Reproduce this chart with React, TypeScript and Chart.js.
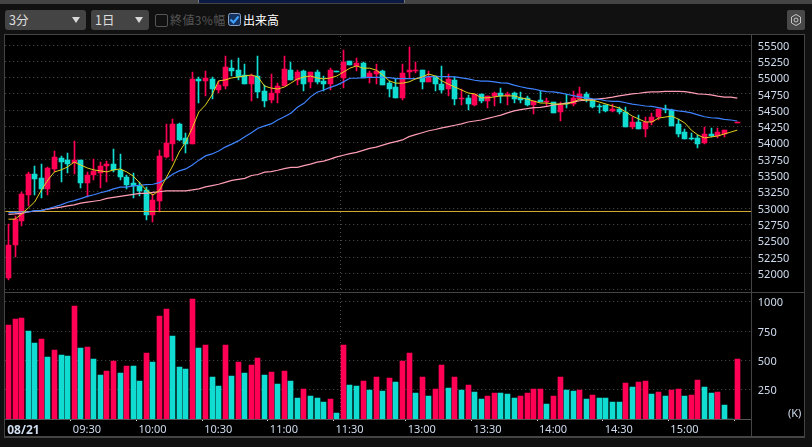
import React, { useEffect, useRef } from "react";
import { Chart, registerables } from "chart.js";

Chart.register(...registerables);

const opens = [51930,52435,52800,53200,53520,53460,53290,53600,53770,53735,
53690,53735,53385,53505,53540,53645,53675,53585,53475,53385,
53340,53275,52895,53110,53785,53980,54290,54075,53980,54980,
54950,54980,54810,54870,55145,55115,55040,54900,55025,54795,
54655,54765,54870,55115,54965,55100,54935,55085,54950,54900,
55100,54995,55255,55180,55225,55010,55055,55100,54915,54855,
54690,55085,55100,55115,54935,55025,54900,54825,54965,54670,
54690,54580,54750,54640,54720,54765,54720,54765,54690,54690,
54580,54655,54625,54625,54475,54610,54595,54670,54750,54655,
54565,54580,54490,54520,54475,54245,54320,54210,54320,54395,
54520,54505,54290,54165,54075,54075,54000,54135,54105,54135,
null,54320];
const closes = [52435,52830,53215,53520,53445,53290,53615,53785,53705,53675,
53735,53385,53505,53570,53645,53675,53585,53475,53355,53340,
53260,52895,53125,53800,53995,54290,54045,53980,54980,54950,
54995,54825,54885,55165,55100,55010,54900,55025,54780,54640,
54765,54870,55130,54965,55085,54900,55085,54935,54900,55115,
55085,55240,55195,55225,54995,55070,55100,54885,54825,54690,
55070,55115,55115,54935,55010,54900,54810,54980,54670,54690,
54595,54750,54640,54720,54765,54720,54750,54670,54655,54580,
54640,54625,54640,54460,54580,54595,54690,54750,54670,54550,
54550,54490,54520,54475,54245,54320,54210,54320,54395,54520,
54505,54260,54135,54060,54060,53980,54135,54105,54165,54195,
null,54325];
const highs = [52755,52880,53245,53555,53645,53675,53630,53875,53800,53845,
54030,53735,53555,53750,53705,53720,53905,53830,53505,53540,
53400,53325,53215,53890,54290,54365,54305,54150,55085,55010,
55100,55010,54950,55330,55270,55300,55210,55055,55330,54885,
55055,54915,55330,55240,55115,55115,55085,55115,55025,55145,
55100,55425,55255,55300,55240,55100,55210,55115,54950,54995,
55210,55470,55240,55115,55100,55025,55180,55055,55010,54825,
54735,54750,54750,54720,54780,54840,54780,54780,54780,54720,
54640,54795,54690,54625,54625,54750,54795,54855,54780,54670,
54595,54580,54595,54550,54550,54395,54425,54395,54460,54520,
54580,54520,54365,54210,54150,54120,54245,54230,54230,54195,
null,54325];
const lows = [51895,52250,52725,53030,53200,53155,53200,53555,53400,53540,
53520,53310,53170,53430,53310,53400,53555,53430,53290,53155,
53185,52815,52785,52940,53770,53720,54030,53845,53980,54610,
54720,54670,54765,54825,55025,54965,54900,54640,54690,54550,
54610,54610,54870,54965,54885,54795,54840,54900,54795,54810,
55085,54840,55195,55100,54995,54915,54900,54885,54705,54690,
54655,54995,55070,54825,54935,54795,54765,54720,54580,54580,
54505,54565,54610,54535,54565,54610,54580,54610,54610,54565,
54440,54625,54565,54460,54335,54535,54565,54670,54625,54535,
54460,54475,54475,54440,54245,54210,54210,54090,54275,54350,
54460,54260,54090,54060,54045,53920,53980,54090,54075,54090,
null,54320];

const maShort = [52830,52830,52910,53000,53095,53275,53430,53555,53585,53630,
53705,53660,53615,53585,53570,53555,53585,53600,53555,53490,
53385,53275,53200,53275,53460,53645,53860,54015,54230,54475,
54580,54735,54950,54965,54995,55010,55025,55040,55010,54870,
54840,54825,54855,54915,54980,55010,55025,54995,54980,54995,
55025,55085,55145,55180,55145,55145,55115,55040,54950,54915,
54915,54935,54980,55010,55055,55025,54950,54900,54855,54810,
54765,54750,54690,54690,54705,54720,54720,54720,54690,54670,
54640,54610,54610,54595,54595,54595,54625,54670,54655,54655,
54625,54595,54565,54535,54475,54410,54365,54320,54320,54380,
54395,54410,54365,54305,54195,54120,54075,54090,54105,54135,
54165,54195];
const maMid = [52930,52935,52940,52940,52960,52960,52990,53020,53050,53090,
53115,53145,53180,53205,53235,53260,53295,53320,53320,53340,
53350,53360,53365,53390,53445,53520,53570,53600,53660,53735,
53800,53830,53875,53935,53980,54030,54095,54155,54225,54260,
54290,54350,54400,54455,54545,54605,54705,54775,54810,54850,
54885,54935,54990,54990,55000,55005,55005,55005,55000,54985,
54985,54985,54985,55000,55015,55015,55015,55015,55010,54995,
54980,54960,54945,54945,54935,54920,54915,54885,54860,54840,
54825,54800,54785,54780,54765,54745,54725,54705,54690,54675,
54665,54645,54635,54635,54615,54595,54580,54565,54560,54540,
54520,54505,54490,54480,54460,54430,54400,54385,54380,54360,
54350,54335];
const maLong = [52905,52910,52920,52940,52955,52965,52985,53000,53015,53035,
53050,53075,53090,53105,53120,53150,53165,53180,53195,53210,
53225,53225,53240,53250,53265,53265,53265,53265,53280,53295,
53325,53345,53365,53395,53425,53440,53455,53500,53515,53550,
53560,53580,53605,53625,53625,53650,53675,53705,53720,53750,
53785,53810,53835,53855,53885,53915,53935,53965,53995,54020,
54045,54095,54125,54155,54185,54205,54230,54250,54270,54290,
54320,54335,54350,54375,54400,54425,54460,54490,54510,54525,
54540,54545,54560,54580,54595,54610,54625,54645,54655,54665,
54675,54685,54700,54720,54735,54750,54760,54775,54780,54780,
54790,54790,54790,54785,54770,54750,54745,54735,54715,54700,
54700,54685];

const volumes = [801,852,860,750,647,682,528,588,545,537,
963,605,613,511,375,409,494,392,452,452,
324,562,486,878,937,707,443,426,1022,605,
630,358,281,630,366,486,392,460,520,375,
400,298,409,324,179,256,196,179,145,170,
51,630,290,281,324,247,358,239,349,315,
494,562,222,358,196,256,460,264,358,247,
290,230,170,196,222,222,213,179,196,222,
256,256,128,196,358,247,239,247,170,204,
179,179,145,145,307,273,315,324,213,230,
196,247,256,196,204,332,273,222,230,119,
0,511];
const volumeUp = [1,1,1,0,0,1,0,1,0,0,
1,0,1,0,0,1,1,0,1,0,
0,1,0,1,1,0,0,0,1,0,
1,0,0,1,0,1,0,1,1,0,
1,0,1,0,0,1,0,0,0,1,
0,1,0,0,1,0,1,0,1,0,
1,1,0,1,0,1,1,0,1,0,
1,0,0,1,1,0,0,0,1,1,
1,1,0,1,1,0,0,1,0,1,
0,0,0,0,1,0,1,1,0,1,
0,1,1,0,1,1,0,0,1,0,
0,1];

const priceTicks = [55500,55250,55000,54750,54500,54250,54000,53750,53500,53250,53000,52750,52500,52250,52000,51750];
const priceLabelled = [55500,55250,55000,54750,54500,54250,54000,53750,53500,53250,53000,52750,52500,52250,52000];
const volumeTicks = [1000,750,500,250];
const prevClose = 52948;
const timeLabels = ["08/21","09:30","10:00","10:30","11:00","11:30","13:00","13:30","14:00","14:30","15:00",""];
const timeSlots = [-0.5,9.5,19.5,29.5,39.5,49.5,60.5,70.5,80.5,90.5,100.5,110.5];
const lunchSlot = 50.5;

const RED = "#ff0055";
const TEAL = "#10dcd2";
const TEXT = "#cfdcee";
const FONT = "'Noto Sans', sans-serif";
const GRID = "#4e4e4e";
const X_MIN = -0.5;
const X_MAX = 113.13;

const noPad = (s: any) => {
  s.paddingTop = 0;
  s.paddingBottom = 0;
  s.paddingLeft = 0;
  s.paddingRight = 0;
};

const snapBars = {
  id: "snapBars",
  afterDatasetsUpdate(chart: any) {
    chart.data.datasets.forEach((ds: any, k: number) => {
      if ((ds.type || chart.config.type) !== "bar") return;
      chart.getDatasetMeta(k).data.forEach((el: any) => {
        el.x = Math.floor(el.x) + 0.5;
        const top = Math.round(Math.min(el.y, el.base));
        let bottom = Math.round(Math.max(el.y, el.base));
        if (bottom <= top) bottom = top + 1;
        el.y = top;
        el.base = bottom;
      });
    });
  },
};

function PriceChart() {
  const ref = useRef<HTMLCanvasElement>(null);
  useEffect(() => {
    const idx = opens.map((_, i) => i).filter((i) => opens[i] !== null);
    const colors = idx.map((i) => ((closes[i] as number) >= (opens[i] as number) ? RED : TEAL));
    const line = (values: number[], color: string, width: number, order: number) => ({
      type: "line",
      data: values.map((y, x) => ({ x, y })),
      borderColor: color,
      borderWidth: width,
      pointRadius: 0,
      tension: 0,
      order,
    });
    const chart = new Chart(ref.current as HTMLCanvasElement, {
      type: "bar",
      data: {
        datasets: [
          line(maShort, "#e4d21e", 1, 1),
          line(maMid, "#3f83ff", 1.2, 2),
          line(maLong, "#ff9db4", 1.2, 3),
          {
            type: "line",
            data: [{ x: X_MIN, y: prevClose }, { x: X_MAX, y: prevClose }],
            borderColor: "#d8ae32",
            borderWidth: 1,
            pointRadius: 0,
            order: 4,
          },
          {
            type: "bar",
            data: idx.map((i) => ({ x: i, y: [Math.min(opens[i] as number, closes[i] as number), Math.max(opens[i] as number, closes[i] as number)] })),
            backgroundColor: colors,
            barThickness: 5,
            grouped: false,
            order: 5,
          },
          {
            type: "bar",
            data: idx.map((i) => ({ x: i, y: [lows[i], highs[i]] })),
            backgroundColor: colors,
            barThickness: 1,
            grouped: false,
            order: 6,
          },
        ] as any,
      },
      options: {
        animation: false,
        responsive: false,
        layout: { padding: { left: 5.2, top: 0, right: 0, bottom: 0 } },
        plugins: { legend: { display: false }, tooltip: { enabled: false } },
        scales: {
          x: {
            type: "linear",
            min: X_MIN,
            max: X_MAX,
            offset: false,
            afterBuildTicks: (s: any) => { s.ticks = [{ value: lunchSlot }]; },
            afterFit: (s: any) => { s.height = 0; noPad(s); },
            ticks: { display: false },
            border: { display: false, dash: [1, 3] },
            grid: { offset: false, color: GRID, drawTicks: false },
          },
          y: {
            position: "right",
            min: 51729,
            max: 55638,
            afterBuildTicks: (s: any) => { s.ticks = priceTicks.map((value) => ({ value })); },
            afterFit: (s: any) => { s.width = 60.7; noPad(s); },
            ticks: {
              autoSkip: false,
              padding: 6.5,
              labelOffset: 1.5,
              color: TEXT,
              font: { family: FONT, size: 11 },
              callback: (v: any) => (priceLabelled.includes(v) ? String(v) : ""),
            },
            border: { display: false, dash: [1, 3] },
            grid: { color: GRID, drawTicks: false },
          },
        },
      } as any,
      plugins: [snapBars],
    });
    return () => chart.destroy();
  }, []);
  return <canvas ref={ref} width={812} height={255} style={{ position: "absolute", left: 0, top: 36, width: 812, height: 255 }} />;
}

function VolumeChart() {
  const ref = useRef<HTMLCanvasElement>(null);
  useEffect(() => {
    const chart = new Chart(ref.current as HTMLCanvasElement, {
      type: "bar",
      data: {
        datasets: [
          {
            data: volumes.map((y, x) => ({ x, y })),
            backgroundColor: volumeUp.map((u) => (u ? RED : TEAL)),
            barThickness: 5,
            grouped: false,
          },
        ] as any,
      },
      options: {
        animation: false,
        responsive: false,
        layout: { padding: { left: 5.2, top: 0, right: 0, bottom: 0 } },
        plugins: { legend: { display: false }, tooltip: { enabled: false } },
        scales: {
          x: {
            type: "linear",
            min: X_MIN,
            max: X_MAX,
            offset: false,
            afterBuildTicks: (s: any) => {
              s.ticks = [...timeSlots, lunchSlot].sort((a, b) => a - b).map((value) => ({ value }));
            },
            afterFit: (s: any) => { s.height = 18; noPad(s); },
            ticks: {
              autoSkip: false,
              maxRotation: 0,
              minRotation: 0,
              align: "start",
              labelOffset: 2,
              padding: 2,
              color: TEXT,
              font: (c: any) =>
                c.tick && c.tick.value === timeSlots[0]
                  ? { family: FONT, size: 12, weight: "bold" }
                  : { family: FONT, size: 11 },
              callback: (v: any) => {
                const k = timeSlots.indexOf(v);
                return k >= 0 ? timeLabels[k] : "";
              },
            },
            border: { display: true, color: "#555555", width: 1, dash: [1, 3] },
            grid: {
              offset: false,
              tickLength: 2,
              color: (c: any) => (c.tick && c.tick.value === lunchSlot ? GRID : "transparent"),
              tickColor: (c: any) =>
                c.tick && c.tick.value !== lunchSlot && c.tick.value !== timeSlots[0] ? "#dddddd" : "transparent",
            },
          },
          y: {
            position: "right",
            min: 0,
            max: 1066,
            afterBuildTicks: (s: any) => { s.ticks = volumeTicks.map((value) => ({ value })); },
            afterFit: (s: any) => { s.width = 60.7; noPad(s); },
            ticks: {
              autoSkip: false,
              padding: 6.5,
              labelOffset: 1.5,
              color: TEXT,
              font: { family: FONT, size: 11 },
              callback: (v: any) => String(v),
            },
            border: { display: false, dash: [1, 3] },
            grid: { color: GRID, drawTicks: false },
          },
        },
      } as any,
      plugins: [snapBars],
    });
    return () => chart.destroy();
  }, []);
  return <canvas ref={ref} width={812} height={143} style={{ position: "absolute", left: 0, top: 294, width: 812, height: 143 }} />;
}

const Dropdown = ({ left, width, label }: { left: number; width: number; label: string }) => (
  <div style={{ position: "absolute", left, top: 10, width, height: 20, background: "#444444", borderRadius: 3, color: "#dddddd", fontFamily: "'Noto Sans CJK JP'", fontSize: 12.5, lineHeight: "20px" }}>
    <span style={{ position: "absolute", left: 4 }}>{label}</span>
    <span style={{ position: "absolute", right: 6, top: 7, width: 0, height: 0, borderLeft: "4px solid transparent", borderRight: "4px solid transparent", borderTop: "6px solid #d8d8d8" }} />
  </div>
);

export default function App() {
  useEffect(() => {
    document.body.style.margin = "0";
    document.body.style.background = "#111111";
  }, []);
  const cjk = "'Noto Sans CJK JP'";
  return (
    <div style={{ position: "absolute", left: 0, top: 0, width: 812, height: 447, background: "#111111", overflow: "hidden" }}>
      <div style={{ position: "absolute", left: 0, top: 0, width: 812, height: 4, background: "#444444" }} />
      <div style={{ position: "absolute", left: 198, top: 0, width: 207, height: 3, background: "#0b1a44", borderLeft: "1px solid #777", borderRight: "1px solid #777", boxSizing: "border-box" }} />
      <Dropdown left={5} width={81} label="3分" />
      <Dropdown left={91} width={58} label="1日" />
      <div style={{ position: "absolute", left: 155, top: 14, width: 11, height: 11, border: "1px solid #555", borderRadius: 2 }} />
      <div style={{ position: "absolute", left: 170, top: 10, color: "#555555", fontFamily: cjk, fontSize: 12, lineHeight: "20px", letterSpacing: 0.4, whiteSpace: "nowrap" }}>終値3%幅</div>
      <svg style={{ position: "absolute", left: 228, top: 13 }} width={13} height={13}>
        <rect x={0.5} y={0.5} width={12} height={12} rx={2} fill="#16325e" stroke="#8aa2c4" />
        <path d="M2.5 6.5 L5.5 9.5 L10.5 3.5" stroke="#3fa4ff" strokeWidth={2} fill="none" />
      </svg>
      <div style={{ position: "absolute", left: 243, top: 10, color: "#ffffff", fontFamily: cjk, fontSize: 12, lineHeight: "20px", whiteSpace: "nowrap" }}>出来高</div>
      <svg style={{ position: "absolute", left: 787, top: 10 }} width={18} height={20}>
        <rect x={0} y={0} width={18} height={20} rx={2} fill="#484848" />
        <path d="M9 4.5 L13.5 7 L13.5 13 L9 15.5 L4.5 13 L4.5 7 Z" fill="none" stroke="#c4c4c4" strokeWidth={1} />
        <circle cx={9} cy={10} r={2} fill="none" stroke="#c4c4c4" strokeWidth={1} />
      </svg>
      <div style={{ position: "absolute", left: 4, top: 34, width: 801, height: 404, boxSizing: "border-box", background: "#000000", borderLeft: "1px solid #444", borderRight: "1px solid #444", borderTop: "1px solid #444", borderBottom: "2px solid #444" }} />
      <PriceChart />
      <VolumeChart />
      <div style={{ position: "absolute", left: 5, top: 292, width: 799, height: 1, background: "#444444" }} />
      <div style={{ position: "absolute", left: 751, top: 35, width: 1, height: 402, background: "#444444" }} />
      <div style={{ position: "absolute", left: 788, top: 405, color: TEXT, fontFamily: FONT, fontSize: 11, lineHeight: "16px" }}>(K)</div>
    </div>
  );
}
